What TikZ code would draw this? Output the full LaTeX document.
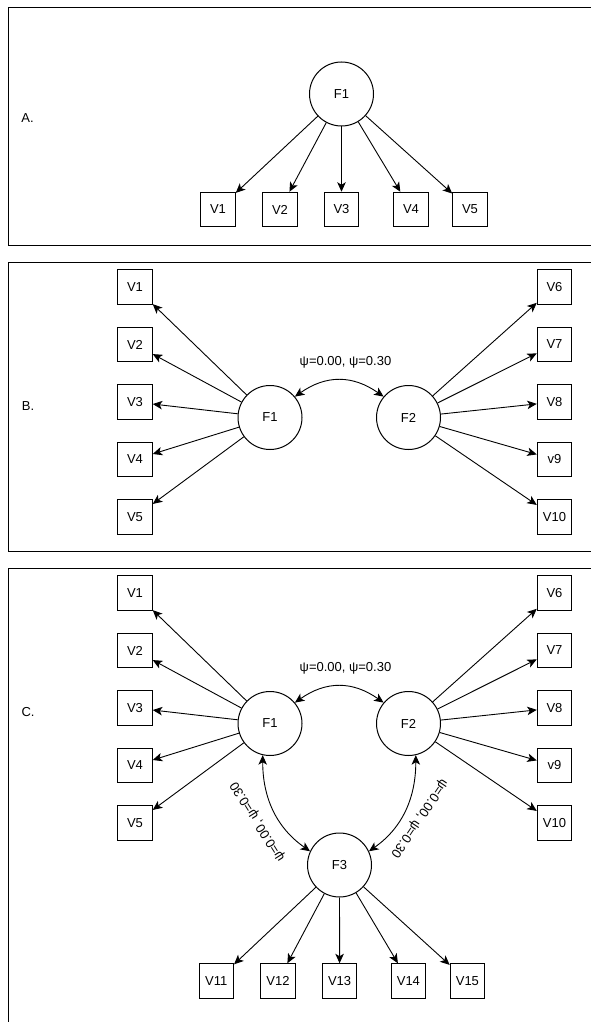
\documentclass[tikz,border=0pt]{standalone}
\usepackage{fontspec}
\setmainfont{Liberation Sans}
\usetikzlibrary{arrows.meta}
\begin{document}
\begin{tikzpicture}[x=1pt,y=-1pt,
  every node/.style={font=\fontsize{13}{15}\selectfont},
  var/.style={draw, line width=1pt, minimum width=34.5pt, minimum height=34.5pt, inner sep=0pt},
  fac/.style={draw, circle, line width=1pt, minimum size=64pt, inner sep=0pt},
  panel/.style={draw, line width=1pt},
  load/.style={line width=0.9pt, -{Stealth[length=9.5pt,width=8.5pt,inset=2.5pt]}},
  cov/.style={line width=0.9pt, {Stealth[length=9.5pt,width=8.5pt,inset=2.5pt]}-{Stealth[length=9.5pt,width=8.5pt,inset=2.5pt]}},
  lab/.style={inner sep=0pt}
]
\useasboundingbox (0,0) rectangle (591,1022);
\clip (0,0) rectangle (591,1022);

% ---------- panels
\draw[panel] (8,7.5) rectangle (600,245.5);
\draw[panel] (8,262) rectangle (600,551);
\draw[panel] (8,568) rectangle (600,1100);

% ---------- Panel A
\node[lab] (labA) at (27.5,118.3) {A.};
\node[fac] (AF1) at (341.5,94) {F1};
\node[var] (AV1) at (218,209.5) {V1};
\node[var] (AV2) at (280,209.5) {V2};
\node[var] (AV3) at (341.5,209.5) {V3};
\node[var] (AV4) at (411,209.5) {V4};
\node[var] (AV5) at (470,209.5) {V5};
\foreach \i in {1,...,5} {\draw[load] (AF1) -- (AV\i);}

% ---------- Panel B
\node[lab] (labB) at (28,406) {B.};
\node[fac] (BF1) at (270,417.5) {F1};
\node[fac] (BF2) at (408.5,417.5) {F2};
\node[var] (BV1) at (135,287) {V1};
\node[var] (BV2) at (135,344.5) {V2};
\node[var] (BV3) at (135,402) {V3};
\node[var] (BV4) at (135,459.5) {V4};
\node[var] (BV5) at (135,517) {V5};
\node[var] (BV6) at (554.5,287) {V6};
\node[var] (BV7) at (554.5,344.5) {V7};
\node[var] (BV8) at (554.5,402) {V8};
\node[var] (BV9) at (554.5,459.5) {v9};
\node[var] (BV10) at (554.5,517) {V10};
\foreach \i in {1,...,5} {\draw[load] (BF1) -- (BV\i);}
\foreach \i in {6,...,10} {\draw[load] (BF2) -- (BV\i);}
\node[lab] (BL) at (345.5,362.7) {ψ=0.00, ψ=0.30};
\draw[cov] (BF1.40) to[out=35,in=145,looseness=1.1] (BF2.140);

% ---------- Panel C
\node[lab] (labC) at (28,712) {C.};
\node[fac] (CF1) at (270,723.5) {F1};
\node[fac] (CF2) at (408.5,723.5) {F2};
\node[fac] (CF3) at (339.5,865) {F3};
\node[var] (CV1) at (135,593) {V1};
\node[var] (CV2) at (135,650.5) {V2};
\node[var] (CV3) at (135,708) {V3};
\node[var] (CV4) at (135,765.5) {V4};
\node[var] (CV5) at (135,823) {V5};
\node[var] (CV6) at (554.5,593) {V6};
\node[var] (CV7) at (554.5,650.5) {V7};
\node[var] (CV8) at (554.5,708) {V8};
\node[var] (CV9) at (554.5,765.5) {v9};
\node[var] (CV10) at (554.5,823) {V10};
\node[var] (CV11) at (216.3,981) {V11};
\node[var] (CV12) at (278,981) {V12};
\node[var] (CV13) at (339.6,981) {V13};
\node[var] (CV14) at (408.4,981) {V14};
\node[var] (CV15) at (467.4,981) {V15};
\foreach \i in {1,...,5} {\draw[load] (CF1) -- (CV\i);}
\foreach \i in {6,...,10} {\draw[load] (CF2) -- (CV\i);}
\foreach \i in {11,...,15} {\draw[load] (CF3) -- (CV\i);}
\node[lab] (CL12) at (345.5,668.7) {ψ=0.00, ψ=0.30};
\draw[cov] (CF1.40) to[out=35,in=145,looseness=1.1] (CF2.140);
\node[lab, rotate=122] (CL13) at (258,821.5) {ψ=0.00, ψ=0.30};
\node[lab, rotate=-124] (CL23) at (419,818) {ψ=0.00, ψ=0.30};
\draw[cov] (CF1.-103) to[out=-90,in=145] (CF3.155);
\draw[cov] (CF2.-77) to[out=-90,in=35] (CF3.25);
\end{tikzpicture}
\end{document}
